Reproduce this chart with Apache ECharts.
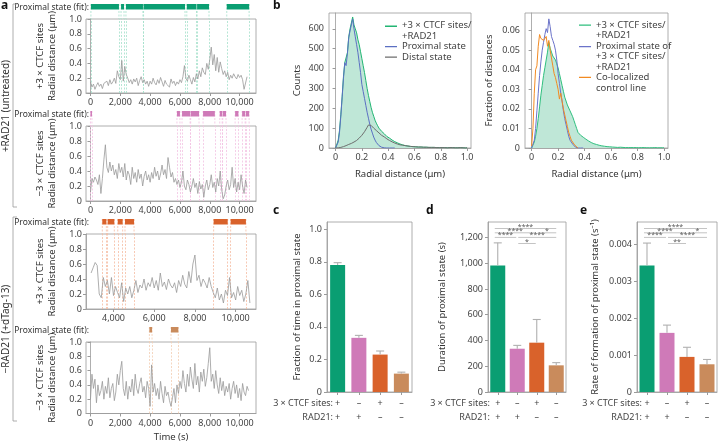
<!DOCTYPE html>
<html><head><meta charset="utf-8">
<script src="https://cdn.jsdelivr.net/npm/echarts@6/dist/echarts.min.js"></script>
<style>html,body{margin:0;padding:0;background:#fff}#c{width:722px;height:445px}</style>
</head><body><div id="c"></div>
<script>
// ---------- DATA ----------
// Panel a: radial distance traces (µm), sampled every 100 s from start time
const a1Start = 0, a1Step = 100;
const a1Vals = [0.15,0.08,0.12,0.05,0.10,0.14,0.09,0.12,0.06,0.13,0.11,0.16,0.10,0.18,0.12,0.15,0.20,0.13,0.30,0.22,
0.18,0.44,0.16,0.36,0.25,0.20,0.14,0.18,0.12,0.19,0.15,0.20,0.10,0.17,0.22,0.14,0.18,0.12,0.16,0.09,
0.16,0.12,0.20,0.14,0.11,0.18,0.13,0.21,0.15,0.09,0.17,0.12,0.14,0.08,0.19,0.13,0.16,0.10,0.15,0.12,
0.18,0.14,0.22,0.37,0.20,0.16,0.24,0.18,0.12,0.21,0.15,0.26,0.19,0.30,0.22,0.34,0.28,0.25,0.40,0.32,
0.45,0.62,0.38,0.52,0.30,0.48,0.28,0.42,0.33,0.25,0.30,0.22,0.28,0.18,0.24,0.20,0.26,0.22,0.19,0.25,
0.21,0.24,0.18,0.05,0.04,0.22];
const a2Start = 0, a2Step = 100;
const a2Vals = [0.12,0.30,0.25,0.32,0.28,0.22,0.35,0.10,0.30,0.55,0.75,0.45,0.38,0.52,0.40,0.48,0.35,0.42,0.30,0.50,
0.38,0.45,0.32,0.50,0.28,0.40,0.35,0.22,0.45,0.30,0.38,0.25,0.42,0.30,0.36,0.20,0.33,0.40,0.28,0.35,
0.25,0.38,0.30,0.45,0.33,0.40,0.28,0.36,0.48,0.35,0.42,0.30,0.58,0.45,0.32,0.38,0.25,0.30,0.22,0.28,
0.18,0.25,0.40,0.20,0.15,0.28,0.22,0.12,0.20,0.30,0.18,0.24,0.10,0.26,0.16,0.22,0.05,0.20,0.28,0.15,
0.22,0.35,0.18,0.25,0.12,0.30,0.20,0.40,0.15,0.03,0.08,0.20,0.28,0.15,0.22,0.45,0.18,0.30,0.12,0.25,
0.15,0.35,0.20,0.10,0.28,0.18];
const a3Start = 2900, a3Step = 100;
const a3Vals = [0.48,0.55,0.62,0.58,0.20,0.15,0.42,0.30,0.38,0.20,
0.42,0.18,0.30,0.22,0.15,0.35,0.10,0.28,0.20,0.30,
0.15,0.25,0.38,0.22,0.32,0.28,0.40,0.25,0.35,0.30,
0.42,0.28,0.38,0.25,0.48,0.30,0.36,0.26,0.40,0.32,
0.28,0.35,0.22,0.38,0.30,0.45,0.33,0.28,0.50,0.35,
0.60,0.72,0.38,0.45,0.30,0.40,0.35,0.28,0.42,0.30,
0.22,0.15,0.28,0.12,0.20,0.08,0.25,0.18,0.42,0.15,
0.22,0.12,0.30,0.18,0.25,0.10,0.20,0.38,0.08];
const a4Start = 0, a4Step = 100;
const a4Vals = [0.20,0.55,0.35,0.48,0.15,0.40,0.25,0.32,0.45,0.20,0.38,0.28,0.50,0.22,0.35,0.42,0.18,0.30,0.55,0.40,
0.60,0.73,0.35,0.25,0.45,0.20,0.38,0.30,0.48,0.25,0.55,0.35,0.28,0.42,0.50,0.30,0.38,0.22,0.45,0.35,
0.10,0.68,0.30,0.42,0.25,0.35,0.20,0.45,0.28,0.15,0.38,0.25,0.30,0.18,0.10,0.22,0.35,0.15,0.40,0.28,
0.45,0.35,0.60,0.42,0.30,0.55,0.38,0.65,0.48,0.35,0.70,0.40,0.52,0.30,0.58,0.45,0.62,0.38,0.50,0.70,
0.92,0.45,0.55,0.35,0.60,0.40,0.28,0.50,0.32,0.45,0.25,0.38,0.30,0.42,0.20,0.35,0.45,0.28,0.40,0.22,
0.35,0.18,0.42,0.30,0.25,0.38,0.32];
// proximal state intervals (s)
const a1Prox = [[30,1910],[2050,2250],[2380,3520],[3560,6340],[6460,7110],[7150,7950],[9140,10640]];
const a2Prox = [[0,100],[5800,6000],[6140,6680],[6720,7280],[7550,8340],[8670,8830],[8870,9090],[9700,9920],[10170,10370],[10420,10640]];
const a3Prox = [[3450,3650],[3715,4040],[4210,4450],[4565,5010],[8920,9610],[9755,10505]];
const a4Prox = [[3950,4130],[5400,5890]];
const aTicks = [0,2000,4000,6000,8000,10000];
const a3Ticks = [4000,6000,8000,10000];

// Panel b: histograms, bins of 0.01 µm from 0
const binStart = 0, binStep = 0.01;
const bCountsAll = [0,10,40,90,170,260,360,430,420,480,
560,600,590,660,620,600,580,545,520,485,
450,415,380,340,300,265,235,205,180,160,
140,125,112,100,92,84,78,72,65,58,
54,50,45,40,36,32,28,26,22,20,
18,16,14,12,11,10,9,8,7,7,
6,6,5,5,4,5,4,4,3,4,
3,3,4,3,2,3,3,2,3,2,
2,2,3,2,2,1,2,2,1,2,
1,1,2,1,1,2,1,1,1,0,1];
const bCountsProx = [0,5,30,80,160,255,350,430,415,475,
555,590,580,650,600,560,520,480,430,380,
320,285,250,215,180,150,120,95,75,55,
40,28,18,12,7,4,2,1,0,0,0,0,0,0,0,0];
const bCountsDist = [0,0,1,2,3,5,7,9,12,15,
18,20,23,26,30,34,38,44,50,57,
64,72,82,92,104,116,122,114,106,100,
94,88,82,76,70,64,60,56,50,46,
42,38,34,31,28,25,22,20,18,16,
15,14,13,12,11,10,9,8,7,7,
6,6,5,5,4,5,4,4,3,4,
3,3,4,3,2,3,3,2,3,2,
2,2,3,2,2,1,2,2,1,2,
1,1,2,1,1,2,1,1,1,0,1];
const bFracAll = [0,0.001,0.003,0.006,0.010,0.015,0.021,0.027,0.032,0.037,
0.041,0.045,0.049,0.054,0.051,0.049,0.047,0.046,0.045,0.043,
0.041,0.038,0.035,0.032,0.029,0.026,0.024,0.022,0.021,0.019,
0.018,0.016,0.014,0.012,0.010,0.008,0.007,0.0065,0.006,0.0055,
0.005,0.0045,0.004,0.0036,0.0032,0.0028,0.0025,0.0022,0.002,0.0018,
0.0016,0.0014,0.0012,0.0011,0.001,0.0009,0.0008,0.0007,0.0006,0.0006,
0.0005,0.0005,0.0004,0.0004,0.0004,0.0003,0.0003,0.0004,0.0003,0.0003,
0.0003,0.0002,0.0003,0.0002,0.0002,0.0002,0.0003,0.0002,0.0002,0.0002,
0.0002,0.0001,0.0002,0.0002,0.0001,0.0002,0.0001,0.0001,0.0002,0.0001,
0.0001,0.0001,0.0001,0.0002,0.0001,0.0001,0.0001,0.0001,0.0001,0.0001,0.0001];
const bFracProx = [0,0.001,0.004,0.010,0.019,0.028,0.037,0.044,0.050,0.054,
0.058,0.061,0.059,0.066,0.062,0.057,0.055,0.053,0.050,0.045,
0.038,0.033,0.028,0.024,0.019,0.015,0.012,0.009,0.006,0.004,
0.003,0.002,0.001,0.0005,0,0,0,0,0,0];
const bFracCtrl = [0.001,0.010,0.028,0.040,0.042,0.052,0.058,0.056,0.057,0.055,
0.054,0.057,0.052,0.055,0.050,0.046,0.042,0.038,0.036,0.033,
0.030,0.025,0.028,0.024,0.020,0.017,0.014,0.011,0.008,0.006,
0.004,0.003,0.002,0.001,0.0005,0];
const bXTicks = [0,0.2,0.4,0.6,0.8,1.0];

// Panels c-e
const condCTCF = ['+','–','+','–'];
const condRAD21 = ['+','+','–','–'];
const cVals = [0.78,0.333,0.23,0.113];
const cUpper = [0.795,0.348,0.252,0.122];
const dVals = [982,336,383,207];
const dUpper = [1158,362,563,228];
const eVals = [0.00342,0.0016,0.00095,0.00075];
const eUpper = [0.00403,0.00181,0.00121,0.00088];
const cTicks = [0,0.2,0.4,0.6,0.8,1.0];
const dTicks = [0,200,400,600,800,1000,1200];
const eTicks = [0,0.001,0.002,0.003,0.004];
// significance: [fromIdx, toIdx, row]
const dSigPairs = [[0,3,0],[0,2,1],[2,3,1],[0,1,2],[1,3,2],[1,2,3]];
const dSigLabels = ['****','****','*','****','****','*'];
const eSigPairs = [[0,3,0],[0,2,1],[2,3,1],[0,1,2],[1,3,2],[1,2,3]];
const eSigLabels = ['****','****','*','****','****','**'];

// ---------- STYLE ----------
const F = 'Noto Sans';
const AX = '#9a9a9a';
const TXT = '#444';
const GREEN = '#0a9e72', PINK = '#cf7ab8', ORANGE = '#d9622b', TAN = '#c98b5c';
const barColors = [GREEN, PINK, ORANGE, TAN];
const lab = {fontFamily:F, fontSize:9, color:TXT};
const nameStyle = {fontFamily:F, fontSize:9.5, color:'#333', lineHeight:12.5};
const fmt1 = v => v === 0 ? '0' : v.toFixed(1);
const fmtComma = v => Math.round(v).toLocaleString('en-US');
const STRIP_H = 5.5;

const grids = [], xAxes = [], yAxes = [], series = [], graphics = [];
function addGrid(g){ grids.push(g); return grids.length - 1; }

// ---------- PANEL A ----------
const aPanels = [
  {vals:a1Vals, t0:a1Start, dt:a1Step, prox:a1Prox, color:GREEN, dash:'#a3e0ca', stripTop:4, top:19, h:74, min:-300, max:11100, ticks:aTicks, yname:'+3 × CTCF sites'},
  {vals:a2Vals, t0:a2Start, dt:a2Step, prox:a2Prox, color:PINK, dash:'#f2c2e2', stripTop:111, top:126, h:75, min:-300, max:11100, ticks:aTicks, yname:'−3 × CTCF sites'},
  {vals:a3Vals, t0:a3Start, dt:a3Step, prox:a3Prox, color:ORANGE, dash:'#f5bba1', stripTop:219, top:234, h:75, min:2650, max:11000, ticks:a3Ticks, yname:'+3 × CTCF sites'},
  {vals:a4Vals, t0:a4Start, dt:a4Step, prox:a4Prox, color:TAN, dash:'#f2cdb1', stripTop:327, top:342, h:75, min:-300, max:11100, ticks:aTicks, yname:'−3 × CTCF sites', xname:'Time (s)'}
];
aPanels.forEach(p => {
  const gs = addGrid({left:86, top:p.stripTop, width:170, height:p.top - p.stripTop, show:false});
  xAxes.push({gridIndex:gs, type:'value', min:p.min, max:p.max, show:false});
  yAxes.push({gridIndex:gs, type:'value', min:0, max:1, show:false});
  series.push({type:'custom', xAxisIndex:gs, yAxisIndex:gs, data:p.prox, encode:{x:[0,1]}, clip:false, silent:true,
    renderItem:(params, api) => {
      const a = api.coord([api.value(0), 1]), b = api.coord([api.value(1), 0]);
      const ds = {stroke:p.dash, lineWidth:0.8, lineDash:[2,1.5]};
      return {type:'group', children:[
        {type:'line', shape:{x1:a[0], y1:a[1], x2:a[0], y2:b[1]}, style:ds},
        {type:'line', shape:{x1:b[0], y1:a[1], x2:b[0], y2:b[1]}, style:ds},
        {type:'rect', shape:{x:a[0], y:a[1], width:b[0]-a[0], height:STRIP_H}, style:{fill:p.color}}
      ]};
    }});
  const gm = addGrid({left:86, top:p.top, width:170, height:p.h, show:true, borderColor:AX, borderWidth:0.8});
  xAxes.push({gridIndex:gm, type:'value', min:p.min, max:p.max,
    axisLine:{show:true, lineStyle:{color:AX, width:0.8}},
    axisTick:{show:true, length:3, customValues:p.ticks, lineStyle:{color:AX}},
    axisLabel:{...lab, margin:5, customValues:p.ticks, formatter:fmtComma},
    splitLine:{show:false},
    name:p.xname || '', nameLocation:'middle', nameGap:18, nameTextStyle:nameStyle});
  yAxes.push({gridIndex:gm, type:'value', min:0, max:1, interval:0.2,
    axisLine:{show:true, lineStyle:{color:AX, width:0.8}},
    axisTick:{show:true, length:3, lineStyle:{color:AX}},
    axisLabel:{...lab, margin:4, formatter:fmt1},
    splitLine:{show:false},
    name:p.yname + '\nRadial distance (μm)', nameLocation:'middle', nameGap:27, nameRotate:90, nameTextStyle:nameStyle});
  const marks = [];
  p.prox.forEach(iv => { marks.push({xAxis:iv[0]}); marks.push({xAxis:iv[1]}); });
  series.push({type:'line', xAxisIndex:gm, yAxisIndex:gm, showSymbol:false, symbol:'none', z:3,
    data:p.vals.map((v,i) => [p.t0 + i*p.dt, v]),
    lineStyle:{color:'#999999', width:0.8}, itemStyle:{color:'#999999'},
    markLine:{silent:true, symbol:['none','none'], label:{show:false}, data:marks, z:1,
      lineStyle:{color:p.dash, type:[2,1.5], width:0.8}, animation:false}});
  graphics.push({type:'text', x:89, y:p.stripTop + STRIP_H/2 + 0.5,
    style:{text:'Proximal state (fit):', font:'8.5px "Noto Sans"', fill:'#333', align:'right', verticalAlign:'middle'}});
});

// ---------- PANEL B ----------
const binX = i => +(binStart + i*binStep).toFixed(2);
const bxAxis = (g) => ({gridIndex:g, type:'value', min:-0.05, max:1.03,
  axisLine:{show:true, lineStyle:{color:AX, width:0.8}},
  axisTick:{show:true, length:3, customValues:bXTicks, lineStyle:{color:AX}},
  axisLabel:{...lab, margin:5, customValues:bXTicks, formatter:fmt1},
  splitLine:{show:false},
  name:'Radial distance (μm)', nameLocation:'middle', nameGap:20, nameTextStyle:nameStyle});
const gb1 = addGrid({left:329, top:13, width:142, height:135, show:true, borderColor:AX, borderWidth:0.8});
xAxes.push(bxAxis(gb1));
yAxes.push({gridIndex:gb1, type:'value', min:0, max:680, interval:100,
  axisLine:{show:true, lineStyle:{color:AX, width:0.8}},
  axisTick:{show:true, length:3, customValues:[0,100,200,300,400,500,600], lineStyle:{color:AX}},
  axisLabel:{...lab, margin:5, customValues:[0,100,200,300,400,500,600]},
  splitLine:{show:false},
  name:'Counts', nameLocation:'middle', nameGap:25, nameRotate:90, nameTextStyle:nameStyle});
const nAll = '+3 × CTCF sites/\n+RAD21';
series.push({name:nAll, type:'line', xAxisIndex:gb1, yAxisIndex:gb1, showSymbol:false, symbol:'none',
  data:bCountsAll.map((v,i)=>[binX(i), v]), lineStyle:{color:'#22b573', width:1}, itemStyle:{color:'#22b573'},
  areaStyle:{color:'#bfe7d7', opacity:1}, z:2});
series.push({name:'Proximal state', type:'line', xAxisIndex:gb1, yAxisIndex:gb1, showSymbol:false, symbol:'none',
  data:bCountsProx.map((v,i)=>[binX(i), v]), lineStyle:{color:'#5b6fc2', width:1}, itemStyle:{color:'#5b6fc2'}, z:3});
series.push({name:'Distal state', type:'line', xAxisIndex:gb1, yAxisIndex:gb1, showSymbol:false, symbol:'none',
  data:bCountsDist.map((v,i)=>[binX(i), v]), lineStyle:{color:'#6e6e6e', width:1}, itemStyle:{color:'#6e6e6e'}, z:3});

const gb2 = addGrid({left:525, top:13, width:143, height:135, show:true, borderColor:AX, borderWidth:0.8});
xAxes.push(bxAxis(gb2));
const fTicks = [0,0.01,0.02,0.03,0.04,0.05,0.06];
yAxes.push({gridIndex:gb2, type:'value', min:0, max:0.069,
  axisLine:{show:true, lineStyle:{color:AX, width:0.8}},
  axisTick:{show:true, length:3, customValues:fTicks, lineStyle:{color:AX}},
  axisLabel:{...lab, margin:5, customValues:fTicks, formatter:v => v === 0 ? '0' : v.toFixed(2)},
  splitLine:{show:false},
  name:'Fraction of distances', nameLocation:'middle', nameGap:29, nameRotate:90, nameTextStyle:nameStyle});
const nAll2 = '+3 × CTCF sites/\n+RAD21 ';
const nProx2 = 'Proximal state of\n+3 × CTCF sites/\n+RAD21';
const nCtrl = 'Co-localized\ncontrol line';
series.push({name:nAll2, type:'line', xAxisIndex:gb2, yAxisIndex:gb2, showSymbol:false, symbol:'none',
  data:bFracAll.map((v,i)=>[binX(i), v]), lineStyle:{color:'#2fbf7e', width:1}, itemStyle:{color:'#2fbf7e'},
  areaStyle:{color:'#bfe7d7', opacity:1}, z:2});
series.push({name:nProx2, type:'line', xAxisIndex:gb2, yAxisIndex:gb2, showSymbol:false, symbol:'none',
  data:bFracProx.map((v,i)=>[binX(i), v]), lineStyle:{color:'#6b73c9', width:1}, itemStyle:{color:'#6b73c9'}, z:3});
series.push({name:nCtrl, type:'line', xAxisIndex:gb2, yAxisIndex:gb2, showSymbol:false, symbol:'none',
  data:bFracCtrl.map((v,i)=>[binX(i), v]), lineStyle:{color:'#f28a22', width:1}, itemStyle:{color:'#f28a22'}, z:3});

// ---------- PANELS C-E ----------
const cats = condCTCF.map((c,i) => c + '\n' + condRAD21[i]);
function barPanel(opt){
  const g = addGrid({left:opt.left, top:222, width:opt.width, height:170, show:true, borderColor:AX, borderWidth:0.8});
  xAxes.push({gridIndex:g, type:'category', data:cats,
    axisLine:{show:true, lineStyle:{color:AX, width:0.8}},
    axisTick:{show:true, length:3, alignWithLabel:true, lineStyle:{color:AX}},
    axisLabel:{...lab, margin:5, lineHeight:13.5}});
  yAxes.push({gridIndex:g, type:'value', min:0, max:opt.max,
    axisLine:{show:true, lineStyle:{color:AX, width:0.8}},
    axisTick:{show:true, length:3, customValues:opt.ticks, lineStyle:{color:AX}},
    axisLabel:{...lab, margin:5, customValues:opt.ticks, formatter:opt.fmt},
    splitLine:{show:false},
    name:opt.name, nameLocation:'middle', nameGap:opt.gap, nameRotate:90, nameTextStyle:nameStyle});
  series.push({type:'bar', xAxisIndex:g, yAxisIndex:g, barWidth:15, silent:true,
    data:opt.vals.map((v,i) => ({value:v, itemStyle:{color:barColors[i]}}))});
  series.push({type:'custom', xAxisIndex:g, yAxisIndex:g, silent:true, z:3,
    data:opt.upper.map((u,i) => [i, opt.vals[i], u]), encode:{x:0, y:[1,2]},
    renderItem:(params, api) => {
      const i = api.value(0);
      const p0 = api.coord([i, api.value(1)]), p1 = api.coord([i, api.value(2)]);
      const st = {stroke:'#b0b0b0', lineWidth:1.1};
      return {type:'group', children:[
        {type:'line', shape:{x1:p0[0], y1:p0[1], x2:p1[0], y2:p1[1]}, style:st},
        {type:'line', shape:{x1:p1[0]-4, y1:p1[1], x2:p1[0]+4, y2:p1[1]}, style:st}
      ]};
    }});
  if (opt.sig){
    const rowOff = [6.5, 10.8, 15.4, 21.5];
    series.push({type:'custom', xAxisIndex:g, yAxisIndex:g, silent:true, clip:false,
      data:opt.sig, encode:{x:[0,1]},
      renderItem:(params, api) => {
        const xa = api.coord([api.value(0), 0])[0] - 3 + (api.value(0) > 0 ? 4 : 0);
        const xb = api.coord([api.value(1), 0])[0] - (api.value(1) < 3 ? 1 : 0);
        const y = params.coordSys.y + rowOff[api.value(2)];
        return {type:'group', children:[
          {type:'line', shape:{x1:xa, y1:y, x2:xb, y2:y}, style:{stroke:'#c4c4c4', lineWidth:1}},
          {type:'text', style:{text:opt.sigLabels[params.dataIndex], x:(xa+xb)/2, y:y+1.5, font:'7px "Noto Sans"', fill:'#555', align:'center', verticalAlign:'bottom'}}
        ]};
      }});
  }
  graphics.push({type:'text', x:opt.rowRight, y:403.5, style:{text:'3 × CTCF sites:', font:'9px "Noto Sans"', fill:TXT, align:'right', verticalAlign:'middle'}});
  graphics.push({type:'text', x:opt.rowRight, y:417, style:{text:'RAD21:', font:'9px "Noto Sans"', fill:TXT, align:'right', verticalAlign:'middle'}});
}
barPanel({left:327, width:85, max:1.045, ticks:cTicks, fmt:fmt1, vals:cVals, upper:cUpper,
  name:'Fraction of time in proximal state', gap:23, rowRight:333});
barPanel({left:488, width:78, max:1320, ticks:dTicks, fmt:fmtComma, vals:dVals, upper:dUpper,
  name:'Duration of proximal state (s)', gap:39, rowRight:490, sig:dSigPairs, sigLabels:dSigLabels});
barPanel({left:637, width:80, max:0.0046, ticks:eTicks, fmt:v => v === 0 ? '0' : v.toFixed(3), vals:eVals, upper:eUpper,
  name:'Rate of formation of proximal state (s⁻¹)', gap:35, rowRight:642, sig:eSigPairs, sigLabels:eSigLabels});

// ---------- DECORATIONS ----------
const letterFont = 'bold 12px "Noto Sans"';
[['a',1,0],['b',273,0],['c',273,205],['d',426,205],['e',580,205]].forEach(l => {
  graphics.push({type:'text', x:l[1], y:l[2], style:{text:l[0], font:letterFont, fill:'#111', align:'left', verticalAlign:'top'}});
});
graphics.push({type:'polyline', shape:{points:[[17,4],[13,4],[13,207],[17,207]]}, style:{stroke:'#9a9a9a', fill:null, lineWidth:0.8}});
graphics.push({type:'polyline', shape:{points:[[17,217],[13,217],[13,421],[17,421]]}, style:{stroke:'#9a9a9a', fill:null, lineWidth:0.8}});
graphics.push({type:'text', x:6, y:106, rotation:Math.PI/2, style:{text:'+RAD21 (untreated)', font:'10px "Noto Sans"', fill:'#333', align:'center', verticalAlign:'middle'}});
graphics.push({type:'text', x:6, y:329, rotation:Math.PI/2, style:{text:'−RAD21 (+dTag-13)', font:'10px "Noto Sans"', fill:'#333', align:'center', verticalAlign:'middle'}});

const iconTop = 'path://M0,0h12v1.3h-12z M0,10.5h0.01v0.01z';
const iconMid = 'path://M0,0h0.01v0.01z M0,4.6h12v1.3h-12z M0,10.5h0.01v0.01z';
const iconQ21 = 'path://M0,0h0.01v0.01z M0,4.6h12v1.3h-12z M0,21h0.01v0.01z';
const iconTop21 = 'path://M0,0h12v1.3h-12z M0,21h0.01v0.01z';
const legTxt = {fontFamily:F, fontSize:9.5, color:TXT, lineHeight:10.45};

const option = {
  animation:false,
  backgroundColor:'#fff',
  grid:grids, xAxis:xAxes, yAxis:yAxes, series:series,
  legend:[
    {orient:'vertical', left:380, top:15.4, itemGap:0, itemWidth:12, itemHeight:10.5, selectedMode:false,
     textStyle:legTxt, itemStyle:{borderWidth:0},
     data:[{name:nAll, icon:iconTop}, {name:'Proximal state', icon:iconMid}, {name:'Distal state', icon:iconMid}]},
    {orient:'vertical', left:574, top:14.8, itemGap:0, itemWidth:12, itemHeight:21, selectedMode:false,
     textStyle:legTxt, itemStyle:{borderWidth:0},
     data:[{name:nAll2, icon:iconQ21}, {name:nProx2, icon:iconTop21}, {name:nCtrl, icon:iconQ21}]}
  ],
  graphic:{elements:graphics}
};
const chart = echarts.init(document.getElementById('c'));
chart.setOption(option);
</script></body></html>
